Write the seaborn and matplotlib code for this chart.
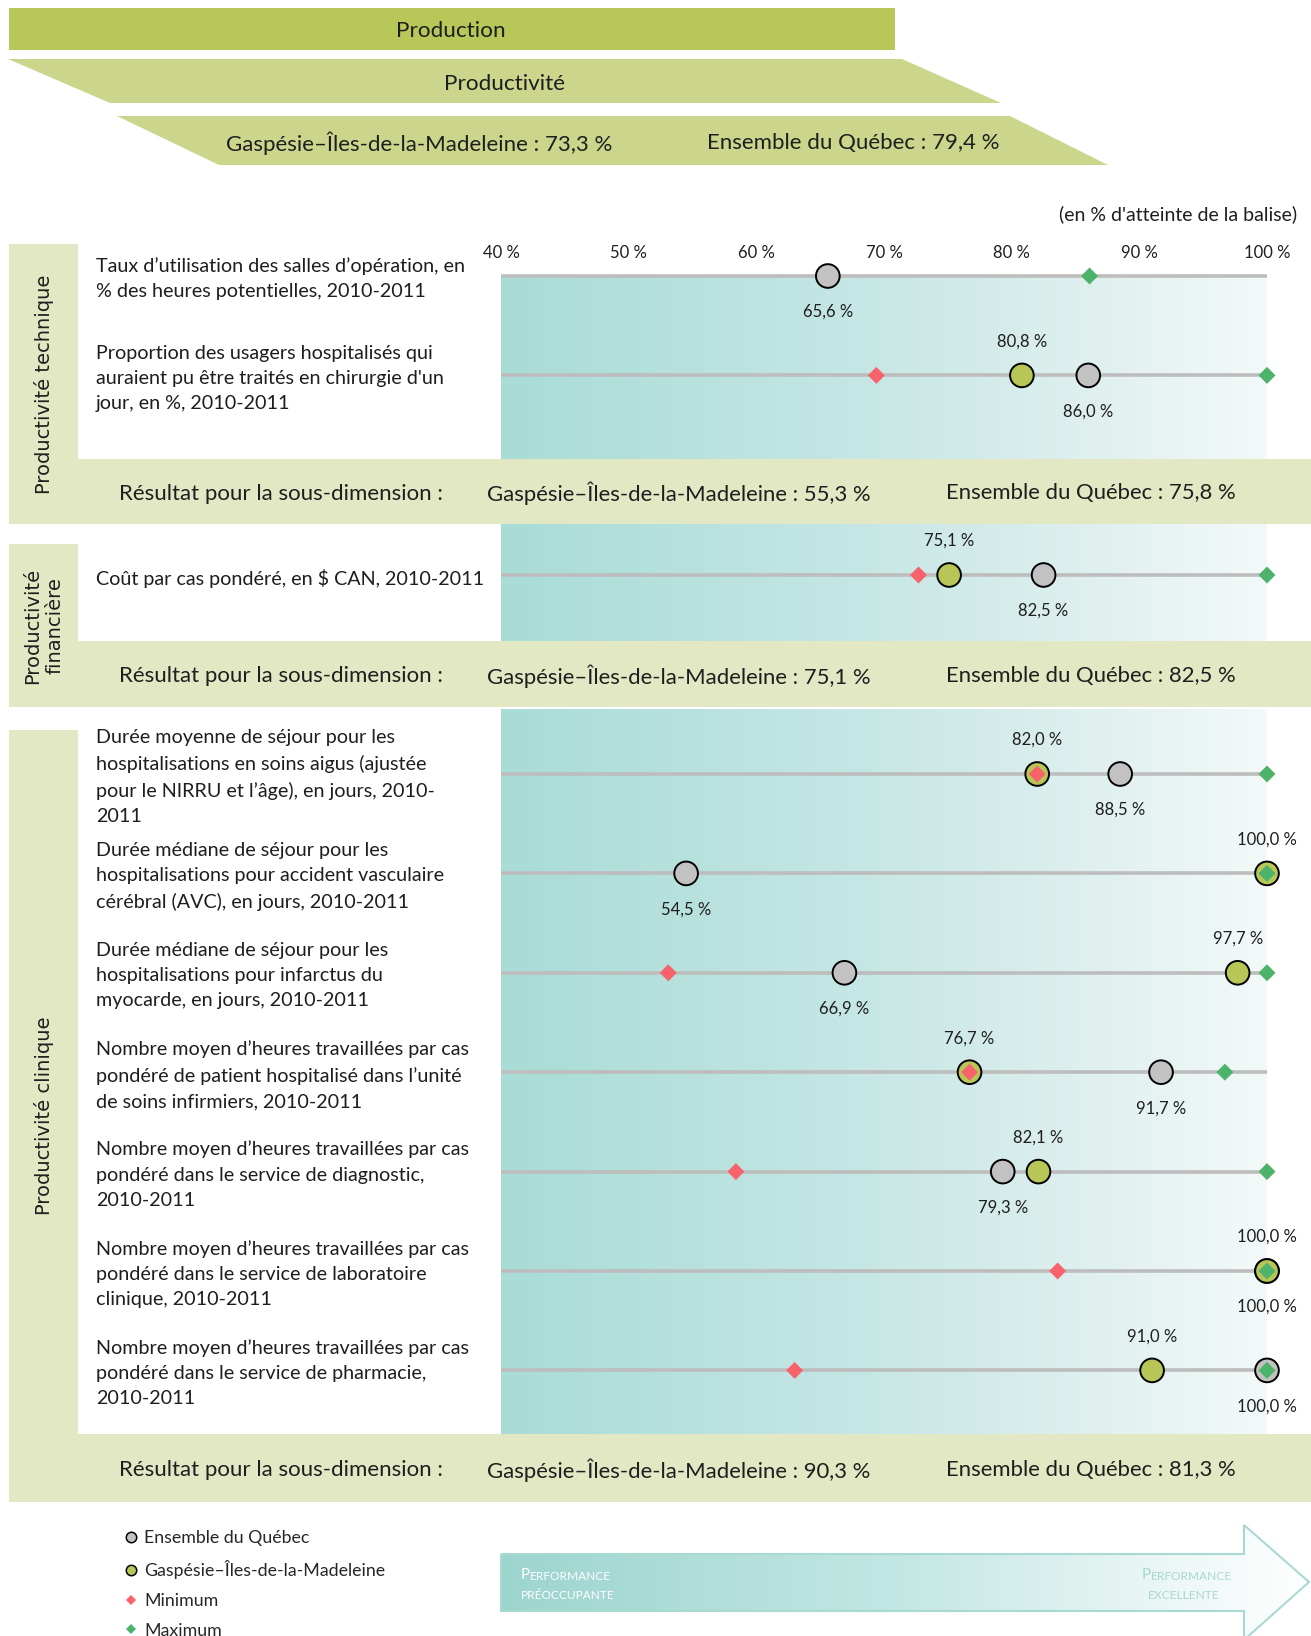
import numpy as np
import pandas as pd
import matplotlib
matplotlib.use("Agg")
import matplotlib.pyplot as plt
from matplotlib.patches import Polygon, Rectangle
from matplotlib.colors import LinearSegmentedColormap
from matplotlib.lines import Line2D
import seaborn as sns

sns.set_style("white")
plt.rcParams['font.family'] = ['Lato', 'DejaVu Sans']

# ---- data -------------------------------------------------------------
indicators = [
    "Taux d’utilisation des salles d’opération, en\n% des heures potentielles, 2010-2011",
    "Proportion des usagers hospitalisés qui\nauraient pu être traités en chirurgie d'un\njour, en %, 2010-2011",
    "Coût par cas pondéré, en $ CAN, 2010-2011",
    "Durée moyenne de séjour pour les\nhospitalisations en soins aigus (ajustée\npour le NIRRU et l’âge), en jours, 2010-\n2011",
    "Durée médiane de séjour pour les\nhospitalisations pour accident vasculaire\ncérébral (AVC), en jours, 2010-2011",
    "Durée médiane de séjour pour les\nhospitalisations pour infarctus du\nmyocarde, en jours, 2010-2011",
    "Nombre moyen d’heures travaillées par cas\npondéré de patient hospitalisé dans l’unité\nde soins infirmiers, 2010-2011",
    "Nombre moyen d’heures travaillées par cas\npondéré dans le service de diagnostic,\n2010-2011",
    "Nombre moyen d’heures travaillées par cas\npondéré dans le service de laboratoire\nclinique, 2010-2011",
    "Nombre moyen d’heures travaillées par cas\npondéré dans le service de pharmacie,\n2010-2011",
]
section_names = ["Productivité technique", "Productivité\nfinancière", "Productivité clinique"]
section_of = [0, 0, 1, 2, 2, 2, 2, 2, 2, 2]
quebec = [65.6, 86.0, 82.5, 88.5, 54.5, 66.9, 91.7, 79.3, 100.0, 100.0]
region = [np.nan, 80.8, 75.1, 82.0, 100.0, 97.7, 76.7, 82.1, 100.0, 91.0]
minimum = [np.nan, 69.4, 72.7, 82.0, np.nan, 53.1, 76.7, 58.4, 83.6, 63.0]
maximum = [86.1, 100.0, 100.0, 100.0, 100.0, 100.0, 96.7, 100.0, 100.0, 100.0]
ticks = [40, 50, 60, 70, 80, 90, 100]
sub_region = [55.3, 75.1, 90.3]
sub_quebec = [75.8, 82.5, 81.3]
total_region = 73.3
total_quebec = 79.4
region_name = "Gaspésie–Îles-de-la-Madeleine"
quebec_name = "Ensemble du Québec"


def pct(v):
    return f"{v:.1f}".replace(".", ",") + " %"


# ---- colours ----------------------------------------------------------
TXT = "#1E1E1E"
OLIVE = "#B7C657"
GRAY = "#C2C2C2"
RED = "#F8636B"
GREEN = "#4DB36B"
LINE = "#BDBDBD"
HEAD = "#B8C858"
PARA = "#CBD68C"
BAND = "#E3E8C4"
teal = LinearSegmentedColormap.from_list(
    "teal", [(0, "#A9DCD6"), (0.45, "#C4E6E4"), (0.75, "#DDEFEE"), (1, "#F3F9F9")])
arrow_cm = LinearSegmentedColormap.from_list(
    "arrow", [(0, "#9DD5CE"), (0.5, "#C4E7E4"), (0.85, "#EEF8F7"), (1, "#FFFFFF")])

# ---- layout (pixels) --------------------------------------------------
W, H = 1311, 1636
X0, X1 = 501, 1267          # 40 % and 100 %
PITCH = 99.4
sec_top = [276, 524, 709]
sec_bot = [459, 641, 1434]
first_row = [276, 575, 774]
band_bot = [524, 707, 1502]
box_top = [244, 544, 730]

fig = plt.figure(figsize=(W / 100, H / 100), dpi=100)
bg = fig.add_axes([0, 0, 1, 1])
bg.set_axis_off()


def fx(x):
    return x / W


def fy(y):
    return 1 - y / H


# header
bg.add_patch(Rectangle((9, 8), 886, 42, color=HEAD, lw=0))
bg.text(451, 31, "Production", ha="center", va="center", fontsize=16.2, color=TXT)
bg.add_patch(Polygon([(8, 59), (902, 59), (1001, 103), (110, 103)], color=PARA, lw=0))
bg.text(505, 84, "Productivité", ha="center", va="center", fontsize=16.2, color=TXT)
bg.add_patch(Polygon([(117, 116), (1010, 116), (1108, 165), (219, 165)], color=PARA, lw=0))
bg.text(419, 143, f"{region_name} : {pct(total_region)}", ha="center", va="center",
        fontsize=16, color=TXT)
bg.text(853, 143, f"{quebec_name} : {pct(total_quebec)}", ha="center", va="center",
        fontsize=16, color=TXT)
bg.text(1297, 214, "(en % d'atteinte de la balise)", ha="right", va="center",
        fontsize=14, color=TXT)

# section boxes and result bands
for s in range(3):
    bg.add_patch(Rectangle((9, box_top[s]), 69, band_bot[s] - box_top[s], color=BAND, lw=0))
    bg.add_patch(Rectangle((9, sec_bot[s]), W - 9, band_bot[s] - sec_bot[s], color=BAND, lw=0))
    yc = (sec_bot[s] + band_bot[s]) / 2 + 2
    bg.text(119, yc, "Résultat pour la sous-dimension :", va="center", fontsize=16, color=TXT)
    bg.text(487, yc, f"{region_name} : {pct(sub_region[s])}", va="center", fontsize=15.9, color=TXT)
    bg.text(946, yc, f"{quebec_name} : {pct(sub_quebec[s])}", va="center", fontsize=15.9, color=TXT)
    bg.text(44, (box_top[s] + band_bot[s]) / 2, section_names[s], rotation=90,
            ha="center", va="center", fontsize=14, color=TXT,
            family="DejaVu Sans", linespacing=1.25)

df = pd.DataFrame({"indicator": indicators, "section": section_of, "quebec": quebec,
                   "region": region, "minimum": minimum, "maximum": maximum})
df["row"] = df.groupby("section").cumcount()
long = df.melt(id_vars=["indicator", "section", "row"],
               value_vars=["quebec", "region", "minimum", "maximum"],
               var_name="series", value_name="value").dropna()

for s in range(3):
    ax = fig.add_axes([fx(X0), fy(sec_bot[s]), (X1 - X0) / W, (sec_bot[s] - sec_top[s]) / H])
    y_top = (sec_top[s] - first_row[s]) / PITCH
    y_bot = (sec_bot[s] - first_row[s]) / PITCH
    ax.imshow(np.linspace(0, 1, 256)[None, :], extent=(40, 100, y_bot, y_top),
              aspect="auto", cmap=teal, zorder=0)
    sub = df[df.section == s]
    ax.hlines(sub.row, 40, 100, colors=LINE, lw=2.6, zorder=1, clip_on=False)
    d = long[long.section == s]
    sns.scatterplot(data=d[d.series.isin(["quebec", "region"])], x="value", y="row",
                    hue="series", palette={"quebec": GRAY, "region": OLIVE},
                    marker="o", s=290, edgecolor="black", linewidth=1.4,
                    legend=False, ax=ax, zorder=3, clip_on=False)
    sns.scatterplot(data=d[d.series.isin(["minimum", "maximum"])], x="value", y="row",
                    hue="series", palette={"minimum": RED, "maximum": GREEN},
                    marker="D", s=75, linewidth=0, legend=False, ax=ax, zorder=4, clip_on=False)
    for r in sub.itertuples():
        if not np.isnan(r.region):
            ax.annotate(pct(r.region), (r.region, r.row), xytext=(0, 24.5),
                        textcoords="offset points", ha="center", va="center",
                        fontsize=12, color=TXT, annotation_clip=False)
        if not np.isnan(r.quebec):
            ax.annotate(pct(r.quebec), (r.quebec, r.row), xytext=(0, -26),
                        textcoords="offset points", ha="center", va="center",
                        fontsize=12, color=TXT, annotation_clip=False)
        bg.text(96, first_row[s] + r.row * PITCH + 3, r.indicator, ha="left", va="center",
                fontsize=14.2, color=TXT, linespacing=1.58)
    ax.set_xlim(40, 100)
    ax.set_ylim(y_bot, y_top)
    ax.set_xlabel("")
    ax.set_ylabel("")
    ax.set_yticks([])
    for sp in ax.spines.values():
        sp.set_visible(False)
    if s == 0:
        ax.xaxis.tick_top()
        ax.set_xticks(ticks)
        ax.set_xticklabels([f"{t} %" for t in ticks])
        ax.tick_params(axis="x", length=0, pad=11, labelsize=12, colors=TXT)
    else:
        ax.set_xticks([])

# performance arrow
arrow_pts = [(501, 1554), (1244, 1554), (1244, 1525), (1309, 1582),
             (1244, 1640), (1244, 1611), (501, 1611)]
im = bg.imshow(np.linspace(0, 1, 256)[None, :], extent=(501, 1309, 1640, 1525),
               aspect="auto", cmap=arrow_cm, zorder=1)
arrow = Polygon(arrow_pts, closed=True, fc="none", ec="#A9D9D3", lw=1.5, zorder=2)
bg.add_patch(arrow)
im.set_clip_path(arrow)


def small_caps(x, y, first, rest, color):
    t = bg.text(x, y, first, fontsize=11, color=color, va="baseline", ha="left", zorder=3)
    bg.annotate(rest, xy=(1, 0), xycoords=t, va="bottom", ha="left",
                fontsize=8.6, color=color, zorder=3)


small_caps(521, 1579, "P", "ERFORMANCE", "white")
bg.text(521, 1599, "PRÉOCCUPANTE", fontsize=8.6, color="white", va="baseline", zorder=3)
small_caps(1142, 1579, "P", "ERFORMANCE", "#A9D7D1")
bg.text(1184, 1599, "EXCELLENTE", fontsize=8.6, color="#A9D7D1", va="baseline",
        ha="center", zorder=3)

bg.set_xlim(0, W)
bg.set_ylim(H, 0)

# legend
handles = [
    Line2D([], [], ls="", marker="o", mfc=GRAY, mec="black", ms=7.5, mew=1.1),
    Line2D([], [], ls="", marker="o", mfc=OLIVE, mec="black", ms=7.5, mew=1.1),
    Line2D([], [], ls="", marker="D", mfc=RED, mew=0, ms=4.8),
    Line2D([], [], ls="", marker="D", mfc=GREEN, mew=0, ms=4.8),
]
fig.legend(handles, [quebec_name, region_name, "Minimum", "Maximum"],
           loc="upper left", bbox_to_anchor=(fx(124), fy(1530)), frameon=False,
           fontsize=12.8, handlelength=0.8, handletextpad=0.35, labelspacing=0.78,
           borderpad=0, borderaxespad=0)

fig.savefig("out.png", dpi=100)
